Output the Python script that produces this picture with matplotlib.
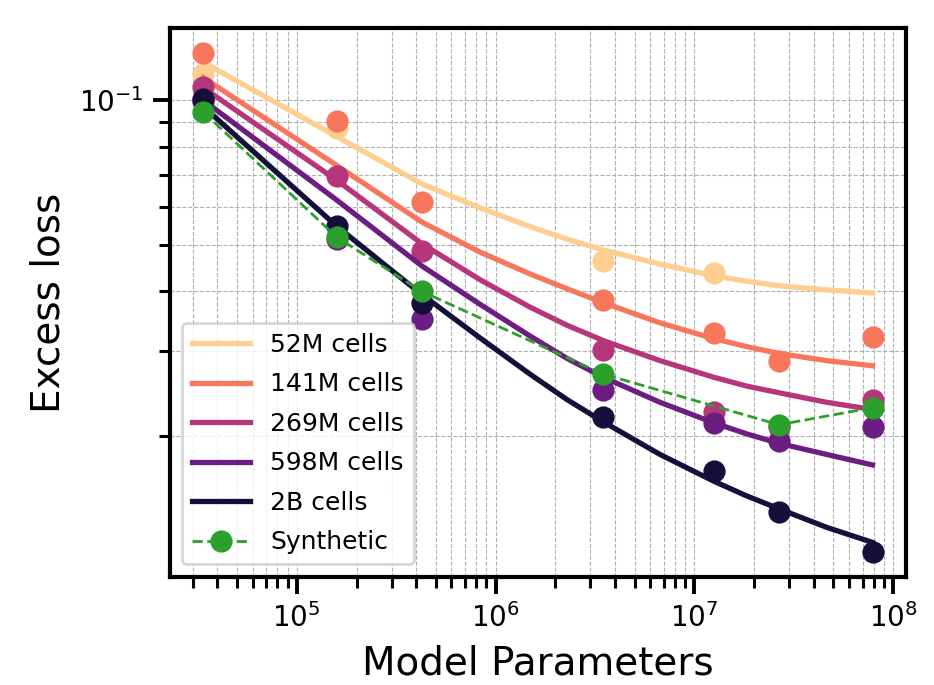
import numpy as np
import matplotlib
matplotlib.use("Agg")
from matplotlib import pyplot as plt

# model sizes (x positions of the runs)
params = [3.4e4, 1.59e5, 4.26e5, 3.48e6, 1.25e7, 2.66e7, 7.86e7]

# measured excess loss per dataset size
pts_52m_x = [3.4e4, 1.59e5, 3.48e6, 1.25e7]
pts_52m = [0.1137, 0.0874, 0.0463, 0.0437]
pts_141m = [0.1255, 0.0904, 0.0613, 0.0383, 0.0328, 0.0286, 0.0321]
pts_269m = [0.1064, 0.0697, 0.0486, 0.0302, 0.0224, 0.0209, 0.0238]
pts_598m = [0.0995, 0.0514, 0.0350, 0.0249, 0.0213, 0.0195, 0.0209]
pts_2b = [0.1008, 0.0547, 0.0378, 0.0219, 0.0169, 0.0139, 0.01147]

# fitted curves
fit_x = [3.4e4, 1.59e5, 4.26e5, 8.36e5, 1.49e6, 2.29e6, 3.48e6,
         6.71e6, 1.25e7, 1.83e7, 2.66e7, 4.62e7, 7.86e7]
fit_52m = [0.120, 0.0841, 0.0670, 0.0597, 0.0546, 0.0514, 0.0488,
           0.0456, 0.0431, 0.0420, 0.0411, 0.0403, 0.0397]
fit_141m = [0.1115, 0.0732, 0.0558, 0.0483, 0.0435, 0.0405, 0.0379,
            0.0344, 0.0319, 0.0307, 0.0297, 0.0287, 0.0280]
fit_269m = [0.1062, 0.0682, 0.0503, 0.0423, 0.0371, 0.0340, 0.0316,
            0.0287, 0.0265, 0.0254, 0.0246, 0.0235, 0.0227]
fit_598m = [0.1000, 0.0620, 0.0452, 0.0376, 0.0323, 0.0290, 0.0265,
            0.0235, 0.0213, 0.0202, 0.0193, 0.0183, 0.0174]
fit_2b = [0.0970, 0.0547, 0.0394, 0.0320, 0.0269, 0.0238, 0.0214,
          0.0183, 0.0161, 0.0150, 0.0141, 0.0129, 0.0120]

# synthetic run
synth_x = [3.4e4, 1.59e5, 4.26e5, 3.48e6, 2.66e7, 7.86e7]
synth_y = [0.0945, 0.0519, 0.0400, 0.0269, 0.0211, 0.0229]

labels = ["52M cells", "141M cells", "269M cells", "598M cells", "2B cells"]
colors = ["#FECE91", "#F8765C", "#B5367A", "#6B1D81", "#160F3B"]

series = [
    (pts_52m_x, pts_52m, fit_52m),
    (params, pts_141m, fit_141m),
    (params, pts_269m, fit_269m),
    (params, pts_598m, fit_598m),
    (params, pts_2b, fit_2b),
]

fig = plt.figure(figsize=(4.67, 3.425), dpi=200)
ax = fig.add_axes([0.182, 0.158, 0.788, 0.801])

for (px, py, fy), lab, c in zip(series, labels, colors):
    ax.plot(fit_x, fy, color=c, lw=1.9, label=lab)
    ax.plot(px, py, 'o', color=c, markersize=7, lw=0)

ax.plot(synth_x, synth_y, 'o--', color='#2CA02C', markersize=7, lw=1.0,
        label='Synthetic')

ax.set_xscale('log')
ax.set_yscale('log')
ax.grid(True, which='both', linestyle='--', linewidth=0.4, color='#b0b0b0')

ax.set_xlabel('Model Parameters', fontsize=14)
ax.set_ylabel('Excess loss', fontsize=14)
ax.tick_params(which='major', length=6, width=1.4, labelsize=10)
ax.tick_params(which='minor', length=4, width=1.1, labelsize=0)
ax.yaxis.set_minor_formatter(matplotlib.ticker.NullFormatter())
for s in ax.spines.values():
    s.set_linewidth(1.5)

ax.legend(loc='lower left', fontsize=9, handlelength=2.3, labelspacing=0.62)

fig.savefig('out.png', dpi=200)
